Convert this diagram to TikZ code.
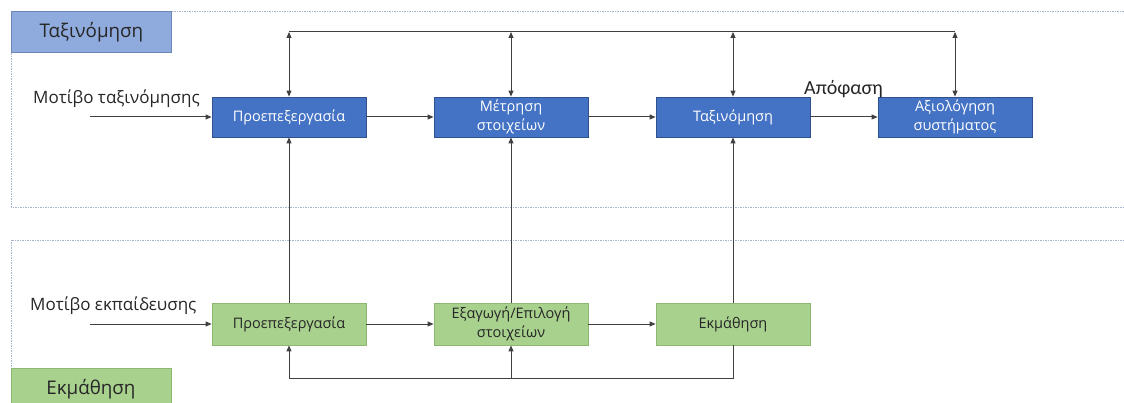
\documentclass[tikz,border=0pt]{standalone}
\usepackage{fontspec}
\setmainfont{Open Sans}
\newfontfamily\narrowfont{Carlito}
\usetikzlibrary{arrows.meta}
\definecolor{boxblue}{HTML}{4472C4}
\definecolor{boxblueline}{HTML}{2F528F}
\definecolor{tagblue}{HTML}{8FAADC}
\definecolor{tagblueline}{HTML}{6D87B8}
\definecolor{boxgreen}{HTML}{A9D18E}
\definecolor{boxgreenline}{HTML}{8DB870}
\definecolor{wire}{HTML}{404040}
\definecolor{frameline}{HTML}{A8B4CC}
\definecolor{inktext}{HTML}{262626}
\tikzset{
  stagebox/.style={minimum width=154pt, minimum height=40pt, inner sep=1pt,
    align=center, font=\fontsize{14.5}{18.5}\selectfont},
  bluebox/.style={stagebox, fill=boxblue, draw=boxblueline, line width=0.8pt, text=white},
  greenbox/.style={stagebox, minimum height=42pt, fill=boxgreen, draw=boxgreenline, line width=0.8pt, text=inktext},
  tagbox/.style={minimum width=160pt, minimum height=41pt, inner sep=0pt,
    font=\fontsize{18.8}{22}\selectfont, text=inktext, anchor=north west},
  frame/.style={draw=frameline, line width=0.6pt, dash pattern=on 1.5pt off 1pt},
  wiring/.style={draw=wire, line width=1pt},
  arr/.style={wiring, -{Triangle[length=6pt,width=5pt]}},
  dbl/.style={wiring, {Triangle[length=6pt,width=5pt]}-{Triangle[length=6pt,width=5pt]}},
  caption/.style={font=\fontsize{17}{20}\selectfont, text=inktext, inner sep=0pt}
}
\begin{document}
\begin{tikzpicture}[x=1pt, y=-1pt]
\useasboundingbox (0,0) rectangle (1124,403);
\clip (0,0) rectangle (1124,403);

% dotted frames of the two phases
\draw[frame] (11,11) rectangle (1140,207);
\draw[frame] (11,240) rectangle (1140,430);

% phase tags
\node[tagbox, fill=tagblue, draw=tagblueline, line width=0.8pt] (tagcls) at (11,11) {Ταξινόμηση};
\node[tagbox, minimum height=45pt, fill=boxgreen, draw=boxgreenline, line width=0.8pt] (taglrn) at (11,368) {};
\node[caption, font=\fontsize{18.8}{22}\selectfont] (taglrntext) at (91,389) {Εκμάθηση};

% classification chain
\node[bluebox] (b1) at (289,117) {Προεπεξεργασία};
\node[bluebox] (b2) at (511,117) {Μέτρηση\\στοιχείων};
\node[bluebox] (b3) at (733,117) {Ταξινόμηση};
\node[bluebox] (b4) at (955,117) {Αξιολόγηση\\συστήματος};

% training chain
\node[greenbox] (g1) at (289,324) {Προεπεξεργασία};
\node[greenbox] (g2) at (511,324) {Εξαγωγή/Επιλογή\\στοιχείων};
\node[greenbox] (g3) at (733,324) {Εκμάθηση};

% inputs
\node[caption, anchor=west] (incls) at (33,99) {Μοτίβο ταξινόμησης};
\node[caption, anchor=west] (inlrn) at (30,306) {Μοτίβο εκπαίδευσης};
\coordinate (srccls) at (90,117);
\coordinate (srclrn) at (90,324);
\draw[arr] (srccls) -- (b1.west);
\draw[arr] (srclrn) -- (g1.west);

% forward flow
\draw[arr] (b1) -- (b2);
\draw[arr] (b2) -- (b3);
\draw[arr] (b3) -- (b4);
\node[caption, font=\narrowfont\fontsize{20}{22}\selectfont, anchor=south west] (decision) at (804,98) {Απόφαση};
\draw[arr] (g1) -- (g2);
\draw[arr] (g2) -- (g3);

% training results feed the classifier
\draw[arr] (g1.north) -- (b1.south);
\draw[arr] (g2.north) -- (b2.south);
\draw[arr] (g3.north) -- (b3.south);

% shared top bus
\coordinate (t1) at (289,32);
\coordinate (t2) at (511,32);
\coordinate (t3) at (733,32);
\coordinate (t4) at (955,32);
\draw[wiring] (t1) -- (t4);
\draw[dbl] (t1) -- (b1.north);
\draw[dbl] (t2) -- (b2.north);
\draw[dbl] (t3) -- (b3.north);
\draw[dbl] (t4) -- (b4.north);

% feedback loop of the training chain
\coordinate (fb3) at (733,378);
\coordinate (fb2) at (511,378);
\draw[arr] (g3.south) -- (fb3) -| (g1.south);
\draw[arr] (fb2) -- (g2.south);
\end{tikzpicture}
\end{document}
